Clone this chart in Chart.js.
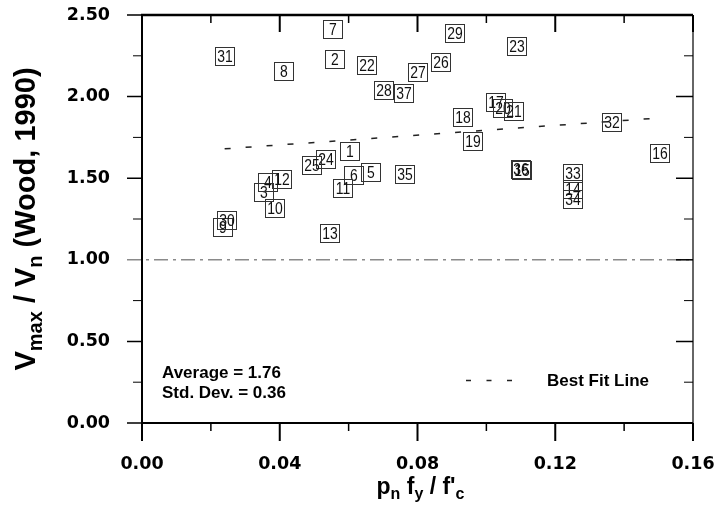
<!DOCTYPE html>
<html>
<head>
<meta charset="utf-8">
<title>Vmax / Vn vs pn fy / f'c</title>
<script src="https://cdn.jsdelivr.net/npm/chart.js@4.4.1/dist/chart.umd.min.js"></script>
<style>
  html, body { margin: 0; padding: 0; background: #fff; }
  canvas { display: block; }
</style>
</head>
<body>
<canvas id="chart" width="718" height="509"></canvas>
<script>
// specimen numbers and their measured values
const specimenIds = ['1','2','3','4','5','6','7','8','9','10','11','12','13','14','15','16','17','18','19',
                     '20','21','22','23','24','25','26','27','28','29','30','31','32','33','34','35','36','37'];
// p_n f_y / f'c
const reinfIndex = [0.0605, 0.0561, 0.0355, 0.0367, 0.0664, 0.0617, 0.0554, 0.0413, 0.0236, 0.0386,
                    0.0585, 0.0406, 0.0546, 0.1251, 0.1103, 0.1504, 0.1027, 0.0933, 0.0961, 0.1047,
                    0.1079, 0.0652, 0.1088, 0.0535, 0.0495, 0.0869, 0.0801, 0.0703, 0.0909, 0.0246,
                    0.0241, 0.1364, 0.1251, 0.1251, 0.0765, 0.1100, 0.0762];
// V_max / V_n (Wood, 1990)
const strengthRatio = [1.668, 2.232, 1.417, 1.474, 1.541, 1.520, 2.414, 2.159, 1.203, 1.316,
                       1.437, 1.494, 1.167, 1.434, 1.550, 1.657, 1.964, 1.873, 1.727, 1.930,
                       1.912, 2.194, 2.311, 1.616, 1.578, 2.209, 2.153, 2.040, 2.387, 1.245,
                       2.251, 1.846, 1.532, 1.373, 1.523, 1.556, 2.022];

// best fit line end points
const fitX = [0.024, 0.151];
const fitY = [1.68, 1.87];
const unityLine = 1.0;

const xTicks = [0, 0.04, 0.08, 0.12, 0.16];
const xMinorTicks = [0.02, 0.06, 0.10, 0.14];
const yTicks = [0, 0.5, 1.0, 1.5, 2.0, 2.5];
const yMinorTicks = [0.25, 0.75, 1.25, 1.75, 2.25];

const statLines = ['Average = 1.76', 'Std. Dev. = 0.36'];
const fitLabel = 'Best Fit Line';

const BOLD = 'bold 17px "Liberation Sans", Arial, sans-serif';

// text with subscripts; parts = [[text, isSub], ...]
function drawRich(ctx, parts, cx, baseY, size, subSize, subDrop) {
  let total = 0;
  const widths = parts.map(([t, sub]) => {
    ctx.font = 'bold ' + (sub ? subSize : size) + 'px "Liberation Sans", Arial, sans-serif';
    const w = ctx.measureText(t).width;
    total += w;
    return w;
  });
  let x = cx - total / 2;
  ctx.textAlign = 'left';
  ctx.textBaseline = 'alphabetic';
  parts.forEach(([t, sub], i) => {
    ctx.font = 'bold ' + (sub ? subSize : size) + 'px "Liberation Sans", Arial, sans-serif';
    ctx.fillText(t, x, baseY + (sub ? subDrop : 0));
    x += widths[i];
  });
}

const framePlugin = {
  id: 'frame',
  beforeDatasetsDraw(chart) {
    const { ctx, chartArea: a, scales } = chart;
    const xs = scales.x, ys = scales.y;
    ctx.save();
    ctx.strokeStyle = '#000';
    ctx.lineCap = 'butt';

    // y = 1.00 reference line
    const yu = ys.getPixelForValue(unityLine);
    ctx.strokeStyle = '#8a8a8a';
    ctx.lineWidth = 1.5;
    ctx.setLineDash([14, 5, 3, 5]);
    ctx.beginPath();
    ctx.moveTo(a.left - 15, yu);
    ctx.lineTo(a.right, yu);
    ctx.stroke();
    ctx.setLineDash([]);

    // box around plot
    ctx.strokeStyle = '#000';
    ctx.lineWidth = 2.5;
    ctx.beginPath(); ctx.moveTo(a.left - 1, a.top); ctx.lineTo(a.right, a.top); ctx.stroke();
    ctx.lineWidth = 2;
    ctx.beginPath(); ctx.moveTo(a.left, a.top); ctx.lineTo(a.left, a.bottom); ctx.stroke();
    ctx.beginPath(); ctx.moveTo(a.left, a.bottom); ctx.lineTo(a.right, a.bottom); ctx.stroke();
    ctx.strokeStyle = '#333';
    ctx.lineWidth = 1.5;
    ctx.beginPath(); ctx.moveTo(a.right, a.top); ctx.lineTo(a.right, a.bottom); ctx.stroke();

    // tick marks: outward on bottom/left, inward on top/right
    ctx.strokeStyle = '#000';
    const tickX = (v, major) => {
      const px = xs.getPixelForValue(v);
      ctx.lineWidth = major ? 2 : 1.5;
      ctx.beginPath();
      ctx.moveTo(px, a.bottom); ctx.lineTo(px, a.bottom + (major ? 18 : 8));
      ctx.moveTo(px, a.top); ctx.lineTo(px, a.top + (major ? 17 : 8));
      ctx.stroke();
    };
    const tickY = (v, major) => {
      const py = ys.getPixelForValue(v);
      ctx.lineWidth = major ? 1.5 : 1;
      ctx.beginPath();
      if (v !== unityLine) { ctx.moveTo(a.left - (major ? 15 : 9), py); ctx.lineTo(a.left, py); }
      ctx.moveTo(a.right - (major ? 17 : 9), py); ctx.lineTo(a.right, py);
      ctx.stroke();
    };
    xTicks.forEach(v => tickX(v, true));
    xMinorTicks.forEach(v => tickX(v, false));
    yTicks.forEach(v => tickY(v, true));
    yMinorTicks.forEach(v => tickY(v, false));
    ctx.restore();
  },
  afterDatasetsDraw(chart) {
    // numbered box for every specimen
    const { ctx } = chart;
    const meta = chart.getDatasetMeta(0);
    ctx.save();
    ctx.strokeStyle = '#333';
    ctx.fillStyle = '#111';
    ctx.lineWidth = 1;
    meta.data.forEach((pt, i) => {
      const x = Math.round(pt.x), y = Math.round(pt.y);
      ctx.strokeRect(x - 9.5, y - 8.5, 19, 18);
      ctx.save();
      ctx.translate(x, y + 1);
      ctx.scale(0.82, 1);
      ctx.font = '17px "Liberation Sans", Arial, sans-serif';
      ctx.textAlign = 'center';
      ctx.textBaseline = 'middle';
      ctx.fillText(specimenIds[i], 0, 0);
      ctx.restore();
    });
    ctx.restore();
  },
  afterDraw(chart) {
    const { ctx, chartArea: a } = chart;
    ctx.save();
    ctx.fillStyle = '#000';

    // statistics
    ctx.font = BOLD;
    ctx.textAlign = 'left';
    ctx.textBaseline = 'middle';
    ctx.fillText(statLines[0], a.left + 20, 373);
    ctx.fillText(statLines[1], a.left + 20, 393);

    // legend
    ctx.strokeStyle = '#222';
    ctx.lineWidth = 1.5;
    ctx.setLineDash([5, 15.5]);
    ctx.beginPath();
    ctx.moveTo(466, 380.5); ctx.lineTo(513, 380.5);
    ctx.stroke();
    ctx.setLineDash([]);
    ctx.fillText(fitLabel, 547, 381);

    // axis titles
    drawRich(ctx, [['p', 0], ['n', 1], [' f', 0], ['y', 1], [' / f\'', 0], ['c', 1]],
             (a.left + a.right) / 2 + 3, 494, 23, 16, 5);
    ctx.save();
    ctx.translate(35, (a.top + a.bottom) / 2);
    ctx.rotate(-Math.PI / 2);
    drawRich(ctx, [['V', 0], ['max', 1], [' / V', 0], ['n', 1], [' (Wood, 1990)', 0]],
             0, 0, 29, 20, 7);
    ctx.restore();
    ctx.restore();
  }
};

const tickFont = { family: '"DejaVu Sans", sans-serif', size: 17.5, weight: 'bold' };

new Chart(document.getElementById('chart'), {
  type: 'scatter',
  data: {
    datasets: [
      {
        label: 'Specimens',
        data: reinfIndex.map((x, i) => ({ x: x, y: strengthRatio[i] })),
        pointRadius: 0,
        pointHoverRadius: 0
      },
      {
        type: 'line',
        label: fitLabel,
        data: fitX.map((x, i) => ({ x: x, y: fitY[i] })),
        borderColor: '#222',
        borderWidth: 1.5,
        borderDash: [6, 15],
        pointRadius: 0,
        fill: false
      }
    ]
  },
  options: {
    responsive: false,
    animation: false,
    events: [],
    layout: { padding: { top: 15, right: 25, left: 0, bottom: 0 } },
    plugins: { legend: { display: false }, tooltip: { enabled: false } },
    scales: {
      x: {
        type: 'linear',
        min: 0, max: 0.16,
        grid: { display: false, drawTicks: false },
        border: { display: false },
        afterBuildTicks: s => { s.ticks = xTicks.map(v => ({ value: v })); },
        afterFit: s => { s.height = 86; s.paddingLeft = 0; s.paddingRight = 0; },
        ticks: {
          color: '#000', font: tickFont, padding: 31, maxRotation: 0,
          callback: v => v.toFixed(2)
        }
      },
      y: {
        type: 'linear',
        min: 0, max: 2.5,
        grid: { display: false, drawTicks: false },
        border: { display: false },
        afterBuildTicks: s => { s.ticks = yTicks.map(v => ({ value: v })); },
        afterFit: s => { s.width = 142; s.paddingTop = 0; s.paddingBottom = 0; },
        ticks: {
          color: '#000', font: tickFont, padding: 32,
          callback: v => v.toFixed(2)
        }
      }
    }
  },
  plugins: [framePlugin]
});
</script>
</body>
</html>
